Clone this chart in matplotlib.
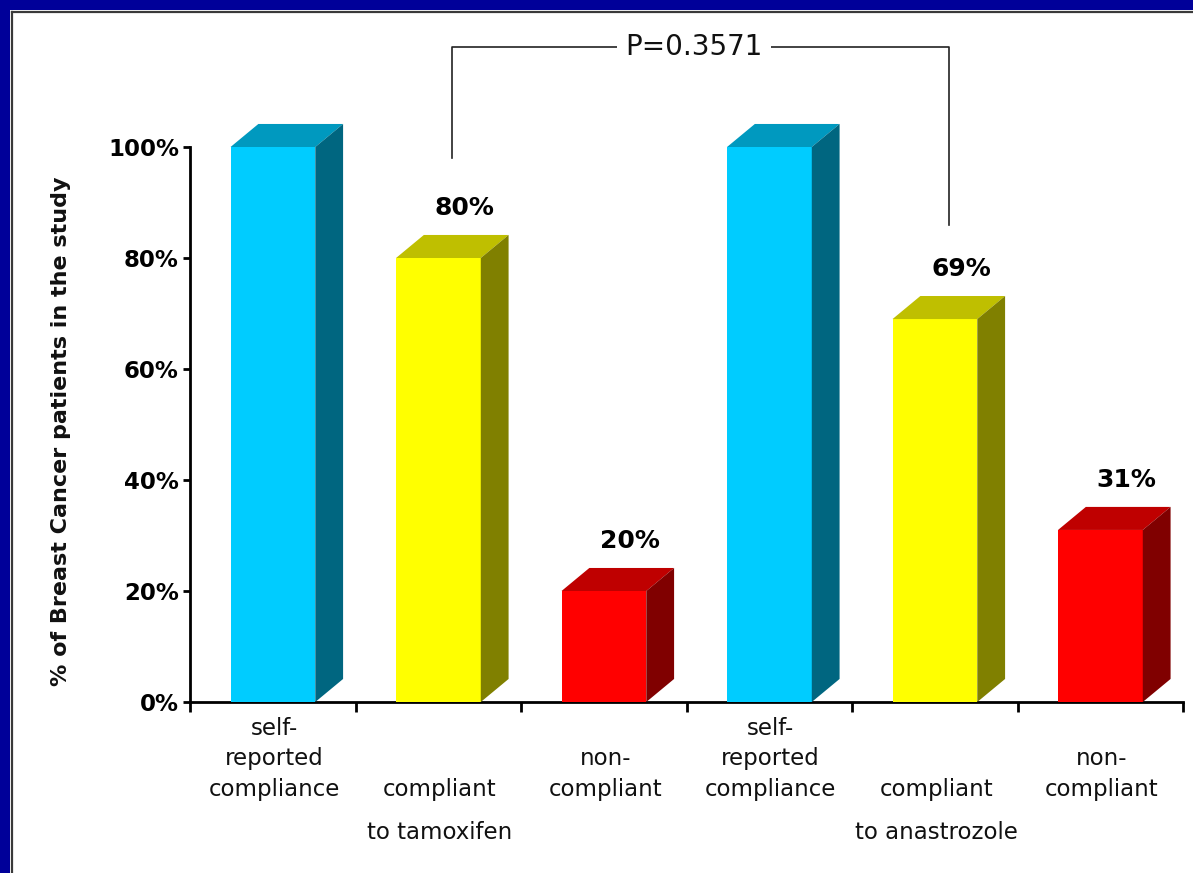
import matplotlib
matplotlib.use("Agg")
import matplotlib.pyplot as plt
from matplotlib.patches import Polygon, Rectangle
from matplotlib.lines import Line2D

# ---- data ----
categories = [
    ["self-", "reported", "compliance"],
    ["compliant", "to tamoxifen"],
    ["non-", "compliant"],
    ["self-", "reported", "compliance"],
    ["compliant", "to anastrozole"],
    ["non-", "compliant"],
]
first_line_slot = [0, 2, 1, 0, 2, 1]
values = [100, 80, 20, 100, 69, 31]
show_value = [False, True, True, False, True, True]
yticks = [0, 20, 40, 60, 80, 100]
ytick_labels = ["0%", "20%", "40%", "60%", "80%", "100%"]
ylabel = "% of Breast Cancer patients in the study"
pvalue_text = "P=0.3571"
pvalue_pair = (1, 4)

# face colours: front, top, side
palette = {
    "cyan": ("#00CCFF", "#0099BF", "#006680"),
    "yellow": ("#FFFF00", "#BFBF00", "#808000"),
    "red": ("#FF0000", "#BF0000", "#800000"),
}
bar_colors = ["cyan", "yellow", "red", "cyan", "yellow", "red"]

# ---- figure / frame ----
W, H = 1193, 873
fig = plt.figure(figsize=(W / 100, H / 100), dpi=100)
fig.patch.set_facecolor("#000099")
fig.patches.append(Rectangle((10 / W, 0), 1, 1 - 10 / H, transform=fig.transFigure,
                             facecolor="white", edgecolor="none", zorder=-2))
fig.lines.append(Line2D([12 / W, 1], [1 - 12 / H, 1 - 12 / H], transform=fig.transFigure,
                        color="#3a3a3a", lw=1.6, zorder=-1))
fig.lines.append(Line2D([12 / W, 12 / W], [0, 1 - 12 / H], transform=fig.transFigure,
                        color="#3a3a3a", lw=1.6, zorder=-1))

ax = fig.add_axes([190 / W, 171 / H, 993 / W, 555 / H])
ax.set_xlim(0, 6)
ax.set_ylim(0, 100)
ax.patch.set_visible(False)

# 3D-look bars
bar_off = 0.245
bar_w = 0.512
dx = 0.168
dy = 4.15
for i, (v, cname) in enumerate(zip(values, bar_colors)):
    front, top, side = palette[cname]
    x0 = i + bar_off
    x1 = x0 + bar_w
    ax.bar(x0, v, width=bar_w, align="edge", color=front, edgecolor="none", zorder=3)
    ax.add_patch(Polygon([(x0, v), (x0 + dx, v + dy), (x1 + dx, v + dy), (x1, v)],
                         closed=True, facecolor=top, edgecolor="none", zorder=3, clip_on=False))
    ax.add_patch(Polygon([(x1, 0), (x1 + dx, dy), (x1 + dx, v + dy), (x1, v)],
                         closed=True, facecolor=side, edgecolor="none", zorder=3, clip_on=False))
    if show_value[i]:
        ax.text(x0 + 0.415, v + 9, f"{v}%", ha="center", va="center",
                fontsize=18, fontweight="bold", color="black")

# axes styling
for s in ("top", "right"):
    ax.spines[s].set_visible(False)
for s in ("left", "bottom"):
    ax.spines[s].set_linewidth(2.0)
    ax.spines[s].set_color("black")
ax.set_yticks(yticks)
ax.set_yticklabels(ytick_labels, fontsize=16.5, fontweight="bold")
ax.tick_params(axis="y", direction="out", length=5, width=2.0, pad=3)
ax.set_xticks(range(7))
ax.set_xticklabels([""] * 7)
ax.tick_params(axis="x", direction="out", length=7, width=2.0)

# category labels under the axis
slot_offsets = [-19, -41, -63, -94]
for i, lines in enumerate(categories):
    for j, line in enumerate(lines):
        ax.annotate(line, xy=(i + 0.5, 0), xycoords=("data", "axes fraction"),
                    xytext=(1, slot_offsets[first_line_slot[i] + j]),
                    textcoords="offset points", ha="center", va="center",
                    fontsize=16.5, color="#111111", annotation_clip=False)

fig.text(61 / W, 1 - 431 / H, ylabel, rotation=90, ha="center", va="center",
         fontsize=16, fontweight="bold", color="#111111")

# significance bracket
a, b = pvalue_pair
xa = a + bar_off + (bar_w + dx) / 2
xb = b + bar_off + (bar_w + dx) / 2
ytop = 118
ax.plot([xa, xa, xb, xb], [values[a] + 18, ytop, ytop, values[b] + 17],
        color="#222222", lw=1.2, clip_on=False, zorder=4)
ax.text((xa + xb) / 2 - 0.04, ytop, pvalue_text, ha="center", va="center",
        fontsize=20, color="#111111", zorder=5,
        bbox=dict(facecolor="white", edgecolor="none", pad=6))

fig.savefig("out.png", dpi=100)
